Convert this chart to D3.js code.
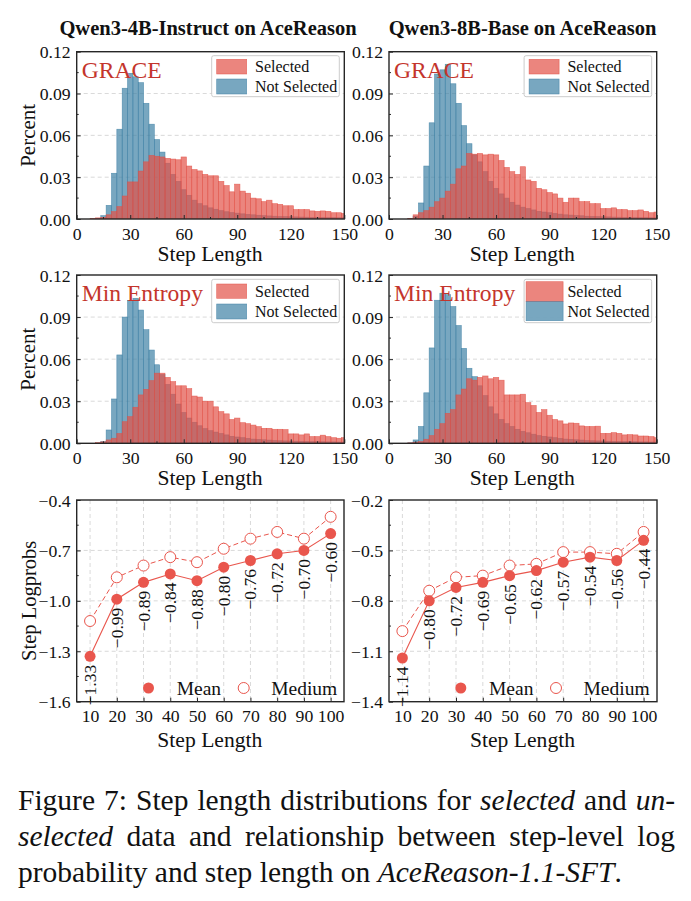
<!DOCTYPE html>
<html><head><meta charset="utf-8">
<script src="https://cdn.jsdelivr.net/npm/d3@7"></script>
<style>
body{margin:0;background:#fff}
svg{display:block}
text{font-family:"Liberation Serif","Times New Roman",serif;fill:#111}
</style>
</head><body>
<svg id="chart" width="691" height="901"></svg>
<script>
// ---------------- DATA ----------------
const binCenters = [3,6,9,12,15,18,21,24,27,30,33,36,39,42,45,48,51,54,57,60,63,66,69,72,75,78,81,84,87,90,93,96,99,102,105,108,111,114,117,120,123,126,129,132,135,138,141,144,147,150];
const binWidth = 3;

const grace4bSelected = [0,0,0.0003,0.0008,0.0012,0.003,0.0053,0.0089,0.0165,0.0266,
  0.0266,0.0344,0.041,0.0456,0.045,0.0445,0.0435,0.043,0.0425,0.0445,
  0.038,0.0355,0.0345,0.032,0.031,0.031,0.027,0.024,0.0195,0.025,
  0.020,0.0185,0.015,0.0145,0.0125,0.0135,0.011,0.0105,0.0095,0.0095,
  0.0068,0.0068,0.0068,0.0058,0.0055,0.0058,0.0055,0.0045,0.0045,0.004];
const grace4bNotSelected = [0,0,0,0.0003,0.0024,0.0098,0.0328,0.0644,0.0938,0.1045,
  0.102,0.0978,0.083,0.068,0.057,0.048,0.040,0.032,0.027,0.021,
  0.017,0.0135,0.011,0.0095,0.008,0.007,0.006,0.0052,0.0046,0.0042,
  0.0037,0.0033,0.003,0.0027,0.0024,0.0022,0.002,0.0018,0.0017,0.0016,
  0.0015,0.0014,0.0013,0.0012,0.0012,0.0011,0.001,0.001,0.0009,0.0009];

const grace8bSelected = [0,0,0,0.0005,0.003,0.0045,0.006,0.0085,0.0124,0.015,
  0.020,0.025,0.036,0.038,0.047,0.0465,0.047,0.046,0.0465,0.046,
  0.042,0.037,0.034,0.032,0.0375,0.028,0.027,0.022,0.021,0.019,
  0.018,0.015,0.012,0.015,0.015,0.0125,0.0125,0.011,0.011,0.0075,
  0.0075,0.008,0.0068,0.0068,0.006,0.006,0.0065,0.0055,0.0045,0.005];
const grace8bNotSelected = [0,0,0,0.0003,0.002,0.0115,0.038,0.069,0.104,0.107,
  0.111,0.097,0.083,0.067,0.054,0.046,0.041,0.034,0.027,0.022,
  0.018,0.015,0.012,0.010,0.0085,0.0075,0.0065,0.0055,0.005,0.0045,
  0.004,0.0035,0.003,0.0028,0.0025,0.0023,0.002,0.0018,0.0017,0.0016,
  0.0015,0.0014,0.0013,0.0012,0.0012,0.0011,0.001,0.001,0.0009,0.0009];

const minEnt4bSelected = [0,0,0,0.0005,0.001,0.0024,0.0036,0.007,0.0154,0.019,
  0.0257,0.0345,0.0385,0.0447,0.050,0.050,0.047,0.044,0.041,0.041,
  0.039,0.0337,0.033,0.030,0.030,0.026,0.0226,0.021,0.017,0.018,
  0.0147,0.014,0.013,0.0119,0.0107,0.0107,0.010,0.010,0.0098,0.0067,
  0.0067,0.006,0.0067,0.0048,0.0048,0.0058,0.0048,0.004,0.0036,0.004];
const minEnt4bNotSelected = [0,0,0,0.0002,0.0012,0.0095,0.0316,0.063,0.090,0.1017,
  0.1034,0.095,0.081,0.0665,0.056,0.049,0.042,0.035,0.028,0.022,
  0.018,0.015,0.0125,0.0105,0.009,0.008,0.007,0.006,0.005,0.0045,
  0.004,0.0035,0.003,0.0028,0.0025,0.0023,0.002,0.0018,0.0017,0.0016,
  0.0015,0.0014,0.0013,0.0012,0.0012,0.0011,0.001,0.001,0.0009,0.0009];

const minEnt8bSelected = [0,0,0,0.0003,0.0008,0.0012,0.0029,0.0055,0.010,0.014,
  0.0214,0.024,0.0345,0.0387,0.046,0.045,0.047,0.048,0.046,0.047,
  0.045,0.0345,0.0345,0.0345,0.035,0.029,0.027,0.022,0.024,0.020,
  0.017,0.016,0.0138,0.0145,0.0143,0.0124,0.012,0.012,0.0122,0.0071,
  0.0071,0.0076,0.0071,0.006,0.0062,0.006,0.0052,0.0052,0.0048,0.004];
const minEnt8bNotSelected = [0,0,0,0.0003,0.0024,0.012,0.036,0.068,0.102,0.107,
  0.106,0.0975,0.084,0.0677,0.0535,0.0475,0.041,0.034,0.026,0.021,
  0.017,0.014,0.012,0.010,0.0085,0.0075,0.0065,0.0055,0.005,0.0045,
  0.004,0.0035,0.003,0.0028,0.0025,0.0023,0.002,0.0018,0.0017,0.0016,
  0.0015,0.0014,0.0013,0.0012,0.0012,0.0011,0.001,0.001,0.0009,0.0009];

const steps = [10,20,30,40,50,60,70,80,90,100];
const mean4b   = [-1.33,-0.99,-0.89,-0.84,-0.88,-0.80,-0.76,-0.72,-0.70,-0.60];
const medium4b = [-1.12,-0.86,-0.79,-0.74,-0.77,-0.69,-0.63,-0.59,-0.63,-0.50];
const mean8b   = [-1.14,-0.80,-0.72,-0.69,-0.65,-0.62,-0.57,-0.54,-0.56,-0.44];
const medium8b = [-0.98,-0.74,-0.66,-0.65,-0.59,-0.58,-0.51,-0.51,-0.52,-0.39];

const histTicksX = [0,30,60,90,120,150];
const histMinorX = [15,45,75,105,135];
const histTicksY = [0,0.03,0.06,0.09,0.12];
const histMinorY = [0.015,0.045,0.075,0.105];
const lineTicksY4b = [-1.6,-1.3,-1.0,-0.7,-0.4];
const lineTicksY8b = [-1.4,-1.1,-0.8,-0.5,-0.2];

const panelTitles = ["Qwen3-4B-Instruct on AceReason","Qwen3-8B-Base on AceReason"];
const methodNames = ["GRACE","Min Entropy"];
const histLegend = ["Selected","Not Selected"];
const lineLegend = ["Mean","Medium"];
const xLabel = "Step Length";
const yLabelHist = "Percent";
const yLabelLine = "Step Logprobs";

// ---------------- STYLE ----------------
const RED = "#E25147", BLUE = "#3E81A5", LINE_RED = "#E9564D", METHOD_RED = "#C4352C";
const svg = d3.select("#chart");
svg.append("rect").attr("width",691).attr("height",901).attr("fill","#fff");

const colX = [{x0:76.7,x1:344.3},{x0:389,x1:656.7}];
const histRows = [{y0:51.7,y1:219},{y0:275,y1:443.3}];
const lineRow = {y0:500,y1:701.7};

let clipId = 0;
function frame(g, b){
  g.append("rect").attr("x",b.x0).attr("y",b.y0).attr("width",b.x1-b.x0).attr("height",b.y1-b.y0)
   .attr("fill","none").attr("stroke","#262626").attr("stroke-width",1.4);
}
function styleAxis(ax, fs){
  ax.select(".domain").remove();
  ax.selectAll(".tick line").attr("stroke","#262626").attr("stroke-width",1);
  ax.selectAll(".tick text").attr("font-size",fs).attr("fill","#111")
    .style("font-family",'"Liberation Serif","Times New Roman",serif');
}

function drawHist(col,row,sel,notSel,method,legendStyle,showY){
  const b = {x0:colX[col].x0,x1:colX[col].x1,y0:histRows[row].y0,y1:histRows[row].y1};
  const g = svg.append("g");
  const x = d3.scaleLinear().domain([0,150]).range([b.x0,b.x1]);
  const y = d3.scaleLinear().domain([0,0.12]).range([b.y1,b.y0]);
  g.selectAll(".grid").data([0.03,0.06,0.09]).join("line")
    .attr("x1",b.x0).attr("x2",b.x1).attr("y1",d=>y(d)).attr("y2",d=>y(d))
    .attr("stroke","#cfcfcf").attr("stroke-width",0.8).attr("stroke-dasharray","4,3");
  const id = "clip"+(clipId++);
  g.append("clipPath").attr("id",id).append("rect").attr("x",b.x0).attr("y",b.y0).attr("width",b.x1-b.x0).attr("height",b.y1-b.y0);
  const bars = g.append("g").attr("clip-path",`url(#${id})`);
  [[notSel,BLUE],[sel,RED]].forEach(([arr,c])=>{
    bars.append("g").selectAll("rect").data(binCenters.map((cc,i)=>({c:cc,v:arr[i]}))).join("rect")
      .attr("x",d=>x(d.c-binWidth/2)).attr("width",d=>x(d.c+binWidth/2)-x(d.c-binWidth/2))
      .attr("y",d=>y(d.v)).attr("height",d=>y(0)-y(d.v))
      .attr("fill",c).attr("fill-opacity",0.7).attr("stroke",c).attr("stroke-opacity",0.8).attr("stroke-width",0.6);
  });
  const ax = g.append("g").attr("transform",`translate(0,${b.y1})`)
    .call(d3.axisBottom(x).tickValues(histTicksX).tickSize(-4).tickPadding(8).tickFormat(d3.format("d")));
  styleAxis(ax,17.7);
  const ay = g.append("g").attr("transform",`translate(${b.x0},0)`)
    .call(d3.axisLeft(y).tickValues(histTicksY).tickSize(-4).tickPadding(6).tickFormat(d3.format(".2f")));
  styleAxis(ay,17.7);
  ay.selectAll(".tick text").attr("dy","0.34em");
  g.selectAll(".mx").data(histMinorX).join("line").attr("x1",d=>x(d)).attr("x2",d=>x(d))
    .attr("y1",b.y1).attr("y2",b.y1-2).attr("stroke","#262626");
  g.selectAll(".my").data(histMinorY).join("line").attr("y1",d=>y(d)).attr("y2",d=>y(d))
    .attr("x1",b.x0).attr("x2",b.x0+2).attr("stroke","#262626");
  frame(g,b);
  g.append("text").attr("x",b.x0+5).attr("y",b.y0+26).attr("font-size",23.6)
    .style("fill",METHOD_RED).text(method);
  const L = legendStyle;
  const lx = b.x1-132.6;
  g.append("rect").attr("x",lx).attr("y",b.y0+L.by).attr("width",127.6).attr("height",L.bh).attr("rx",2)
    .attr("fill","#fff").attr("fill-opacity",0.85).attr("stroke","#cccccc").attr("stroke-width",1);
  [[RED,L.s1],[BLUE,L.s2]].forEach(([c,s])=>{
    g.append("rect").attr("x",lx+L.sx).attr("y",b.y0+s[0]).attr("width",L.sw).attr("height",s[1])
      .attr("fill",c).attr("fill-opacity",0.7).attr("stroke",c).attr("stroke-opacity",0.8).attr("stroke-width",0.6);
  });
  histLegend.forEach((t,i)=>{
    g.append("text").attr("x",lx+43.3).attr("y",b.y0+L.tb[i]).attr("font-size",16).text(t);
  });
  g.append("text").attr("x",(b.x0+b.x1)/2-0.5).attr("y",b.y1+42).attr("text-anchor","middle")
    .attr("font-size",21.6).text(xLabel);
  if(showY){
    g.append("text").attr("transform",`translate(35,${(b.y0+b.y1)/2}) rotate(-90)`)
      .attr("text-anchor","middle").attr("font-size",21).text(yLabelHist);
  }
}

const legA = {by:4,bh:41,sx:5,sw:30,s1:[7.6,14.7],s2:[27.3,15],tb:[20,40]};
const legB = {by:4.3,bh:43.4,sx:5,sw:30,s1:[9,14.3],s2:[29,15],tb:[21.7,41.7]};
const legC = {by:4.3,bh:43.4,sx:2,sw:37,s1:[6.7,20],s2:[26.7,19],tb:[21.7,41.7]};

drawHist(0,0,grace4bSelected,grace4bNotSelected,methodNames[0],legA,true);
drawHist(1,0,grace8bSelected,grace8bNotSelected,methodNames[0],legA,false);
drawHist(0,1,minEnt4bSelected,minEnt4bNotSelected,methodNames[1],legB,true);
drawHist(1,1,minEnt8bSelected,minEnt8bNotSelected,methodNames[1],legC,false);

function drawLine(col,mean,medium,ticksY,showY){
  const b = {x0:colX[col].x0,x1:colX[col].x1+(col===0?-0.3:0.3),y0:lineRow.y0,y1:lineRow.y1};
  const g = svg.append("g");
  const x = d3.scaleLinear().domain([5,105]).range([b.x0,b.x1]);
  const y = d3.scaleLinear().domain([ticksY[0],ticksY[ticksY.length-1]]).range([b.y1,b.y0]);
  g.selectAll(".gy").data(ticksY.slice(1,-1)).join("line")
    .attr("x1",b.x0).attr("x2",b.x1).attr("y1",d=>y(d)).attr("y2",d=>y(d))
    .attr("stroke","#cfcfcf").attr("stroke-width",0.8).attr("stroke-dasharray","4,3");
  g.selectAll(".gx").data(steps).join("line")
    .attr("y1",b.y0).attr("y2",b.y1).attr("x1",d=>x(d)).attr("x2",d=>x(d))
    .attr("stroke","#cfcfcf").attr("stroke-width",0.8).attr("stroke-dasharray","4,3");
  const ax = g.append("g").attr("transform",`translate(0,${b.y1})`)
    .call(d3.axisBottom(x).tickValues(steps).tickSize(-4).tickPadding(8).tickFormat(d3.format("d")));
  styleAxis(ax,17.7);
  const ay = g.append("g").attr("transform",`translate(${b.x0},0)`)
    .call(d3.axisLeft(y).tickValues(ticksY).tickSize(-4).tickPadding(6).tickFormat(d3.format(".1f")));
  styleAxis(ay,17.7);
  ay.selectAll(".tick text").attr("dy","0.34em");
  const minors = d3.pairs(ticksY).map(p=>(p[0]+p[1])/2);
  g.selectAll(".my").data(minors).join("line").attr("y1",d=>y(d)).attr("y2",d=>y(d))
    .attr("x1",b.x0).attr("x2",b.x0+2).attr("stroke","#262626");
  frame(g,b);
  const pts = (arr)=>steps.map((s,i)=>[x(s),y(arr[i])]);
  g.append("path").attr("d",d3.line()(pts(medium))).attr("fill","none").attr("stroke",LINE_RED)
    .attr("stroke-width",1).attr("stroke-dasharray","5,3");
  g.append("path").attr("d",d3.line()(pts(mean))).attr("fill","none").attr("stroke",LINE_RED)
    .attr("stroke-width",1.1);
  g.selectAll(".med").data(pts(medium)).join("circle").attr("cx",d=>d[0]).attr("cy",d=>d[1]).attr("r",5.5)
    .attr("fill","#fff").attr("stroke",LINE_RED).attr("stroke-width",1);
  g.selectAll(".mean").data(pts(mean)).join("circle").attr("cx",d=>d[0]).attr("cy",d=>d[1]).attr("r",5.5)
    .attr("fill",LINE_RED);
  steps.forEach((s,i)=>{
    g.append("text").attr("transform",`translate(${x(s)},${y(mean[i])+8.5}) rotate(-90)`)
      .attr("text-anchor","end").attr("dominant-baseline","central").attr("font-size",17.5)
      .text(d3.format(".2f")(mean[i]));
  });
  const ly = b.y1-13.7;
  g.append("circle").attr("cx",b.x0+71.8).attr("cy",ly).attr("r",5.5).attr("fill",LINE_RED);
  g.append("text").attr("x",b.x0+100).attr("y",ly+6.8).attr("font-size",19.5).text(lineLegend[0]);
  g.append("circle").attr("cx",b.x0+167).attr("cy",ly).attr("r",5.5).attr("fill","#fff").attr("stroke",LINE_RED);
  g.append("text").attr("x",b.x0+194.5).attr("y",ly+6.8).attr("font-size",19.5).text(lineLegend[1]);
  g.append("text").attr("x",(b.x0+b.x1)/2-0.5).attr("y",b.y1+45).attr("text-anchor","middle")
    .attr("font-size",21.6).text(xLabel);
  if(showY){
    g.append("text").attr("transform",`translate(36,${(b.y0+b.y1)/2}) rotate(-90)`)
      .attr("text-anchor","middle").attr("font-size",20.5).text(yLabelLine);
  }
}
drawLine(0,mean4b,medium4b,lineTicksY4b,true);
drawLine(1,mean8b,medium8b,lineTicksY8b,false);

svg.append("text").attr("x",208).attr("y",35).attr("text-anchor","middle").attr("font-size",20.5)
  .attr("font-weight","bold").text(panelTitles[0]);
svg.append("text").attr("x",522.5).attr("y",35).attr("text-anchor","middle").attr("font-size",20.5)
  .attr("font-weight","bold").text(panelTitles[1]);

// caption (justified by word spacing)
const cap = svg.append("g").attr("font-size",29.5);
function capLine(y, parts, justify){
  const t = cap.append("text").attr("x",18).attr("y",y);
  parts.forEach(([s,it])=>{ const sp=t.append("tspan").text(s); if(it) sp.attr("font-style","italic"); });
  if(justify){
    const w = t.node().getComputedTextLength();
    const n = parts.map(p=>p[0]).join("").split(" ").length-1;
    t.attr("word-spacing",(657-w)/n);
  }
}
capLine(810,[["Figure 7: Step length distributions for "],["selected",1],[" and "],["un-",1]],true);
capLine(846,[["selected",1],[" data and relationship between step-level log"]],true);
capLine(882,[["probability and step length on "],["AceReason-1.1-SFT",1],["."]],false);
</script>
</body></html>
